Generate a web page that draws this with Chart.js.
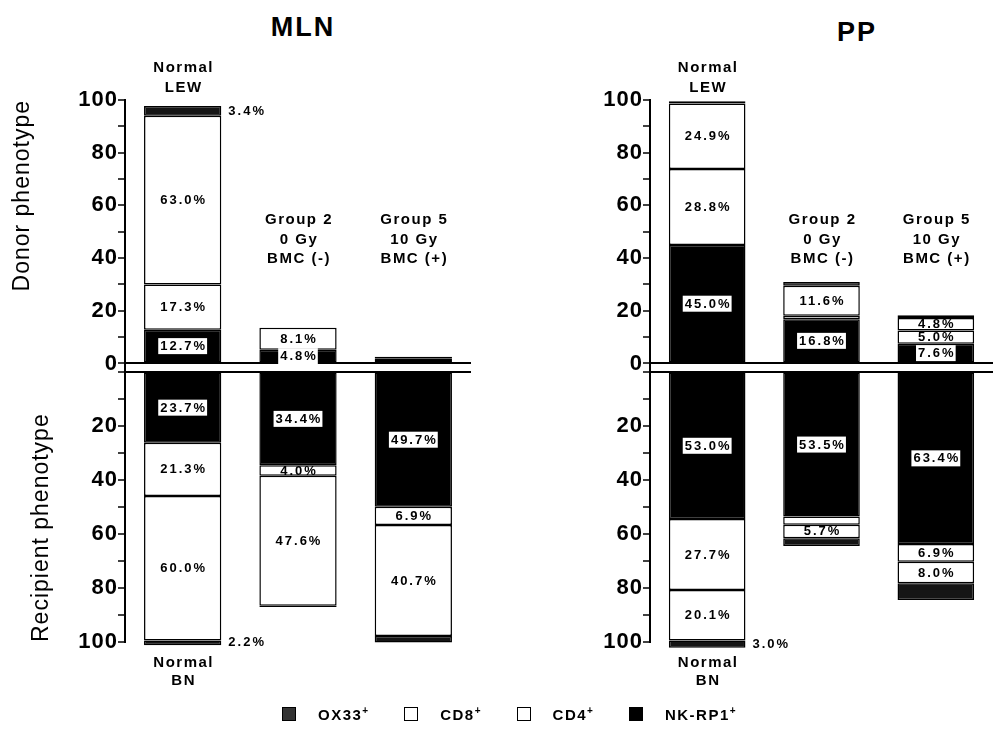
<!DOCTYPE html>
<html>
<head>
<meta charset="utf-8">
<script src="https://cdn.jsdelivr.net/npm/chart.js@4"></script>
<style>
  html, body { margin: 0; padding: 0; background: #fff; }
  body { width: 996px; height: 743px; position: relative; overflow: hidden;
         font-family: "Liberation Sans", Arial, Helvetica, sans-serif; color: #000; }
  canvas { position: absolute; top: 0; }
  #mlnChart { left: 0; }
  #ppChart { left: 560px; }
  .title { position: absolute; font-weight: bold; font-size: 27px; letter-spacing: 2px;
           transform: translateX(-50%); }
  .legend { position: absolute; top: 705px; left: 282px; display: flex; align-items: center;
            font-weight: bold; font-size: 15px; letter-spacing: 1.5px; }
  .sw { width: 14px; height: 14px; border: 1.5px solid #000; box-sizing: border-box; margin-right: 22px; }
  .lt { margin-right: 36px; }
  .lt sup { font-size: 10px; letter-spacing: 0; }
</style>
</head>
<body>
<div class="title" style="left:303px; top:12px;">MLN</div>
<div class="title" style="left:857px; top:17px;">PP</div>
<canvas id="mlnChart" width="560" height="743"></canvas>
<canvas id="ppChart" width="436" height="743"></canvas>
<div class="legend" id="legend"></div>
<script>
// bars, stacked from the zero line outward: NK-RP1+, CD4+, CD8+, OX33+
const categories = ['Normal', 'Group 2', 'Group 5'];
const subsetNames = ['NK-RP1+', 'CD4+', 'CD8+', 'OX33+'];
const subsetFill = ['#000000', '#ffffff', '#ffffff', '#151515'];
const legendNames = ['OX33', 'CD8', 'CD4', 'NK-RP1'];
const legendFill = ['#333333', '#ffffff', '#ffffff', '#000000'];
const tickSteps = [0, 10, 20, 30, 40, 50, 60, 70, 80, 90, 100];

const captionAbove = [['Normal', 'LEW'], ['Group 2', '0 Gy', 'BMC (-)'], ['Group 5', '10 Gy', 'BMC (+)']];
const captionBelow = [['Normal', 'BN'], [], []];

// MLN - donor phenotype (upper half)
const mlnDonorNK  = [12.8, 5.2, 0.5];
const mlnDonorCD4 = [17.2, 8.4, 0.8];
const mlnDonorCD8 = [64.0, 0, 0.7];
const mlnDonorOX  = [3.7, 0, 0.6];
// MLN - recipient phenotype (lower half)
const mlnRecipNK  = [26.3, 34.6, 50.0];
const mlnRecipCD4 = [19.7, 3.9, 6.7];
const mlnRecipCD8 = [53.4, 48.1, 41.1];
const mlnRecipOX  = [1.8, 0.5, 2.4];

// PP - donor phenotype
const ppDonorNK  = [45.0, 16.8, 7.5];
const ppDonorCD4 = [28.8, 1.3, 5.0];
const ppDonorCD8 = [24.9, 11.4, 4.8];
const ppDonorOX  = [0.8, 1.4, 1.0];
// PP - recipient phenotype
const ppRecipNK  = [54.5, 53.6, 63.8];
const ppRecipCD4 = [26.3, 3.0, 6.5];
const ppRecipCD8 = [18.6, 5.0, 8.0];
const ppRecipOX  = [2.7, 2.9, 6.2];

// printed percentages
const mlnDonorTextNK  = ['12.7%', '4.8%', ''];
const mlnDonorTextCD4 = ['17.3%', '8.1%', ''];
const mlnDonorTextCD8 = ['63.0%', '', ''];
const mlnDonorTextOX  = ['3.4%', '', ''];
const mlnRecipTextNK  = ['23.7%', '34.4%', '49.7%'];
const mlnRecipTextCD4 = ['21.3%', '4.0%', '6.9%'];
const mlnRecipTextCD8 = ['60.0%', '47.6%', '40.7%'];
const mlnRecipTextOX  = ['2.2%', '', ''];
const ppDonorTextNK  = ['45.0%', '16.8%', '7.6%'];
const ppDonorTextCD4 = ['28.8%', '', '5.0%'];
const ppDonorTextCD8 = ['24.9%', '11.6%', '4.8%'];
const ppDonorTextOX  = ['', '', ''];
const ppRecipTextNK  = ['53.0%', '53.5%', '63.4%'];
const ppRecipTextCD4 = ['27.7%', '', '6.9%'];
const ppRecipTextCD8 = ['20.1%', '5.7%', '8.0%'];
const ppRecipTextOX  = ['3.0%', '', ''];

const FONT = '"Liberation Sans", Arial, Helvetica, sans-serif';

function panelDatasets(donor, recip, donorText, recipText) {
  const list = [];
  subsetNames.forEach((name, s) => {
    list.push({ label: name, data: donor[s], yAxisID: 'yTop',
      backgroundColor: subsetFill[s], texts: donorText[s], kind: s });
  });
  subsetNames.forEach((name, s) => {
    list.push({ label: name, data: recip[s].map(v => -v), yAxisID: 'yBot',
      backgroundColor: subsetFill[s], texts: recipText[s], kind: s });
  });
  return list;
}

function zeroLine(c) {
  return c.tick && c.tick.value === 0 ? '#000' : 'rgba(0,0,0,0)';
}

// note: in a stack of left axes the one declared last ends up on top
function makeScales(withTitles, axisWidth) {
  const tickFont = { family: FONT, size: 22, weight: 'bold' };
  const titleFont = { family: FONT, size: 23 };
  const grid = { color: zeroLine, lineWidth: 2, tickColor: '#000', tickLength: 7, tickWidth: 1.5 };
  const border = { display: true, color: '#000', width: 2 };
  return {
    x: { display: false, stacked: true },
    yBot: {
      type: 'linear', position: 'left', stack: 'panel', stackWeight: 278, stacked: true,
      min: -100, max: 3,
      afterBuildTicks: s => { s.ticks = tickSteps.map(v => ({ value: -v })); },
      afterFit: s => { s.width = axisWidth; },
      ticks: { color: '#000', font: tickFont, padding: 0, autoSkip: false,
        callback: v => (v % 20 === 0 && v !== 0 ? String(-v) : '') },
      grid: grid, border: border,
      title: { display: withTitles, text: 'Recipient phenotype', align: 'start', color: '#000',
        font: titleFont, padding: { top: 28, bottom: 0 } }
    },
    yTop: {
      type: 'linear', position: 'left', stack: 'panel', stackWeight: 263, stacked: true,
      min: 0, max: 100,
      afterBuildTicks: s => { s.ticks = tickSteps.map(v => ({ value: v })); },
      afterFit: s => { s.width = axisWidth; },
      ticks: { color: '#000', font: tickFont, padding: 0, autoSkip: false,
        callback: v => (v % 20 === 0 ? String(v) : '') },
      grid: grid, border: border,
      title: { display: withTitles, text: 'Donor phenotype', align: 'end', color: '#000',
        font: titleFont, padding: { top: 9, bottom: 0 } }
    }
  };
}

const spacing = {
  id: 'spacing',
  beforeDraw(chart) { chart.ctx.letterSpacing = '1px'; }
};

const segmentLabels = {
  id: 'segmentLabels',
  afterDatasetsDraw(chart) {
    const ctx = chart.ctx;
    ctx.save();
    ctx.font = 'bold 13px ' + FONT;
    ctx.letterSpacing = '2px';
    ctx.textBaseline = 'middle';
    chart.data.datasets.forEach((ds, di) => {
      const meta = chart.getDatasetMeta(di);
      meta.data.forEach((bar, i) => {
        const t = ds.texts[i];
        if (!t) return;
        const yc = (bar.y + bar.base) / 2;
        ctx.fillStyle = '#000';
        if (ds.kind === 3) {
          ctx.textAlign = 'left';
          ctx.fillText(t, bar.x + bar.width / 2 + 7, yc);
          return;
        }
        ctx.textAlign = 'center';
        const w = ctx.measureText(t).width;
        if (ds.kind === 0) {
          ctx.fillStyle = '#fff';
          ctx.fillRect(bar.x - w / 2 - 1, yc - 8, w + 2, 16);
          ctx.fillStyle = '#000';
        }
        ctx.fillText(t, bar.x + 1, yc + 0.5);
      });
    });
    ctx.restore();
  }
};

const captions = {
  id: 'captions',
  afterDraw(chart) {
    const { ctx, chartArea, scales } = chart;
    ctx.save();
    ctx.font = 'bold 15px ' + FONT;
    ctx.letterSpacing = '1.5px';
    ctx.textAlign = 'center';
    ctx.textBaseline = 'middle';
    ctx.fillStyle = '#000';
    categories.forEach((c, i) => {
      const x = scales.x.getPixelForValue(i) + 1;
      const above = captionAbove[i];
      const y0 = i === 0 ? chartArea.top - 32 : chartArea.top + 120;
      above.forEach((line, k) => ctx.fillText(line, x, y0 + k * 19.5));
      captionBelow[i].forEach((line, k) => ctx.fillText(line, x, chartArea.bottom + 21 + k * 18));
    });
    ctx.restore();
  }
};

function makePanel(id, donor, recip, donorText, recipText, withTitles, axisWidth, padRight) {
  return new Chart(document.getElementById(id), {
    type: 'bar',
    data: { labels: categories, datasets: panelDatasets(donor, recip, donorText, recipText) },
    options: {
      responsive: false,
      animation: false,
      devicePixelRatio: 1,
      layout: { padding: { left: 0, right: padRight, top: 100, bottom: 101 } },
      datasets: { bar: { borderColor: '#000', borderWidth: 1.5, borderSkipped: false,
        barPercentage: 0.67, categoryPercentage: 1, clip: false } },
      scales: makeScales(withTitles, axisWidth),
      plugins: { legend: { display: false }, tooltip: { enabled: false } }
    },
    plugins: [spacing, segmentLabels, captions]
  });
}

makePanel('mlnChart',
  [mlnDonorNK, mlnDonorCD4, mlnDonorCD8, mlnDonorOX],
  [mlnRecipNK, mlnRecipCD4, mlnRecipCD8, mlnRecipOX],
  [mlnDonorTextNK, mlnDonorTextCD4, mlnDonorTextCD8, mlnDonorTextOX],
  [mlnRecipTextNK, mlnRecipTextCD4, mlnRecipTextCD8, mlnRecipTextOX],
  true, 125, 89);

makePanel('ppChart',
  [ppDonorNK, ppDonorCD4, ppDonorCD8, ppDonorOX],
  [ppRecipNK, ppRecipCD4, ppRecipCD8, ppRecipOX],
  [ppDonorTextNK, ppDonorTextCD4, ppDonorTextCD8, ppDonorTextOX],
  [ppRecipTextNK, ppRecipTextCD4, ppRecipTextCD8, ppRecipTextOX],
  false, 90, 3);

const legend = document.getElementById('legend');
legendNames.forEach((name, i) => {
  const sw = document.createElement('span');
  sw.className = 'sw';
  sw.style.background = legendFill[i];
  const lt = document.createElement('span');
  lt.className = 'lt';
  lt.innerHTML = name + '<sup>+</sup>';
  legend.appendChild(sw);
  legend.appendChild(lt);
});
</script>
</body>
</html>
